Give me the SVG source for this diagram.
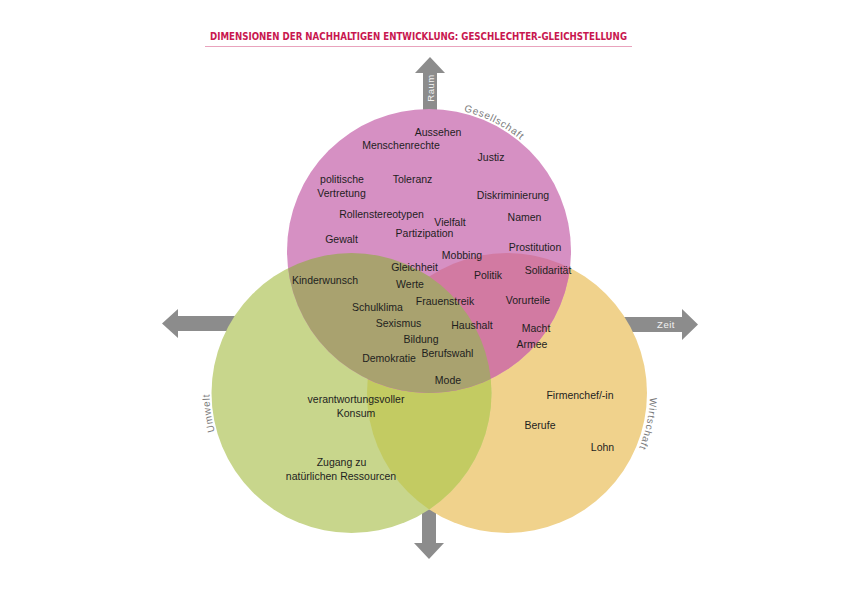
<svg xmlns="http://www.w3.org/2000/svg" width="842" height="596" viewBox="0 0 842 596">
<style>
.lbl{font-family:"Liberation Sans",Arial,sans-serif;font-size:10.5px;fill:#1e1e1e;text-anchor:middle}
.ring{font-family:"Liberation Sans",Arial,sans-serif;font-size:10px;fill:#7a7a7a;letter-spacing:0.8px}
.arr{fill:#8c8c8c}
.arrtxt{font-family:"Liberation Sans",Arial,sans-serif;font-size:9.5px;fill:#f2f2f2;text-anchor:middle;letter-spacing:0.5px}
.title{font-family:"DejaVu Sans Condensed","DejaVu Sans",sans-serif;font-weight:bold;font-size:11px;fill:#c8174f}
</style>
<defs>
<clipPath id="cGreen"><circle cx="351.5" cy="393" r="140"/></clipPath>
<clipPath id="cYellow"><circle cx="507" cy="393" r="140"/></clipPath>
<path id="pGes" d="M429 107 A144 144 0 0 1 573 251"/>
<path id="pUmw" d="M351.5 535 A142 142 0 0 1 209.5 393 A142 142 0 0 1 351.5 251"/>
<path id="pWir" d="M507 250 A143 143 0 0 1 650 393 A143 143 0 0 1 507 536"/>
</defs>

<g id="title">
<text class="title" x="210" y="40" textLength="417" lengthAdjust="spacingAndGlyphs">DIMENSIONEN DER NACHHALTIGEN ENTWICKLUNG: GESCHLECHTER-GLEICHSTELLUNG</text>
<line x1="205" y1="46.5" x2="632" y2="46.5" stroke="#e9a3bd" stroke-width="1"/>
</g>

<g id="connectors">
<g id="arrow-raum">
<path class="arr" d="M423 140 L423 73 L415 73 L430 57 L445 73 L437 73 L437 140 Z"/>
<text class="arrtxt" transform="translate(433.5 88) rotate(-90)">Raum</text>
</g>
<g id="arrow-umwelt">
<path class="arr" d="M260 316 L178 316 L178 309 L162 323.5 L178 338 L178 331 L260 331 Z"/>
</g>
<g id="arrow-zeit">
<path class="arr" d="M600 317 L682 317 L682 309 L698 324.5 L682 340 L682 332 L600 332 Z"/>
<text class="arrtxt" x="666" y="328">Zeit</text>
</g>
<g id="arrow-unten">
<path class="arr" d="M422 490 L422 543 L414 543 L429 559 L444 543 L436 543 L436 490 Z"/>
</g>
</g>

<g id="node-wirtschaft">
<circle cx="507" cy="393" r="140" fill="#f0d28c"/>
<text class="ring"><textPath href="#pWir" startOffset="229">Wirtschaft</textPath></text>
</g>
<g id="node-umwelt">
<circle cx="351.5" cy="393" r="140" fill="#c8d68c"/>
<text class="ring"><textPath href="#pUmw" startOffset="184">Umwelt</textPath></text>
</g>
<g id="overlap-umwelt-wirtschaft">
<circle cx="507" cy="393" r="140" fill="#c3cb62" clip-path="url(#cGreen)"/>
</g>
<g id="node-gesellschaft">
<circle cx="429" cy="251" r="142" fill="#d690c3"/>
<text class="ring"><textPath href="#pGes" startOffset="35">Gesellschaft</textPath></text>
</g>
<g id="overlap-gesellschaft-wirtschaft">
<circle cx="429" cy="251" r="142" fill="#d27aa2" clip-path="url(#cYellow)"/>
</g>
<g id="overlap-gesellschaft-umwelt">
<circle cx="429" cy="251" r="142" fill="#a9a26f" clip-path="url(#cGreen)"/>
</g>

<g id="terms">
<text class="lbl" x="438" y="136">Aussehen</text>
<text class="lbl" x="401" y="149">Menschenrechte</text>
<text class="lbl" x="491" y="161">Justiz</text>
<text class="lbl" x="342" y="182.5">politische</text>
<text class="lbl" x="341.5" y="197">Vertretung</text>
<text class="lbl" x="412.5" y="182.5">Toleranz</text>
<text class="lbl" x="513" y="199">Diskriminierung</text>
<text class="lbl" x="381.5" y="217.5">Rollenstereotypen</text>
<text class="lbl" x="450" y="225.5">Vielfalt</text>
<text class="lbl" x="524.5" y="220.5">Namen</text>
<text class="lbl" x="424.5" y="236.5">Partizipation</text>
<text class="lbl" x="341.5" y="242.5">Gewalt</text>
<text class="lbl" x="535" y="250.5">Prostitution</text>
<text class="lbl" x="462" y="258.5">Mobbing</text>
<text class="lbl" x="414.5" y="270.5">Gleichheit</text>
<text class="lbl" x="548" y="273.5">Solidarität</text>
<text class="lbl" x="488" y="278.5">Politik</text>
<text class="lbl" x="325" y="283.5">Kinderwunsch</text>
<text class="lbl" x="410" y="287.5">Werte</text>
<text class="lbl" x="445" y="304.5">Frauenstreik</text>
<text class="lbl" x="528" y="303.5">Vorurteile</text>
<text class="lbl" x="377.5" y="310.5">Schulklima</text>
<text class="lbl" x="398.5" y="326.5">Sexismus</text>
<text class="lbl" x="472" y="328.5">Haushalt</text>
<text class="lbl" x="536" y="331.5">Macht</text>
<text class="lbl" x="421" y="342.5">Bildung</text>
<text class="lbl" x="532" y="347.5">Armee</text>
<text class="lbl" x="447.5" y="356.5">Berufswahl</text>
<text class="lbl" x="389" y="361.5">Demokratie</text>
<text class="lbl" x="448" y="384">Mode</text>
<text class="lbl" x="356" y="403">verantwortungsvoller</text>
<text class="lbl" x="356" y="417">Konsum</text>
<text class="lbl" x="341.5" y="466">Zugang zu</text>
<text class="lbl" x="341" y="479.5">natürlichen Ressourcen</text>
<text class="lbl" x="580" y="399">Firmenchef/-in</text>
<text class="lbl" x="540" y="429">Berufe</text>
<text class="lbl" x="602.5" y="451">Lohn</text>
</g>
</svg>
